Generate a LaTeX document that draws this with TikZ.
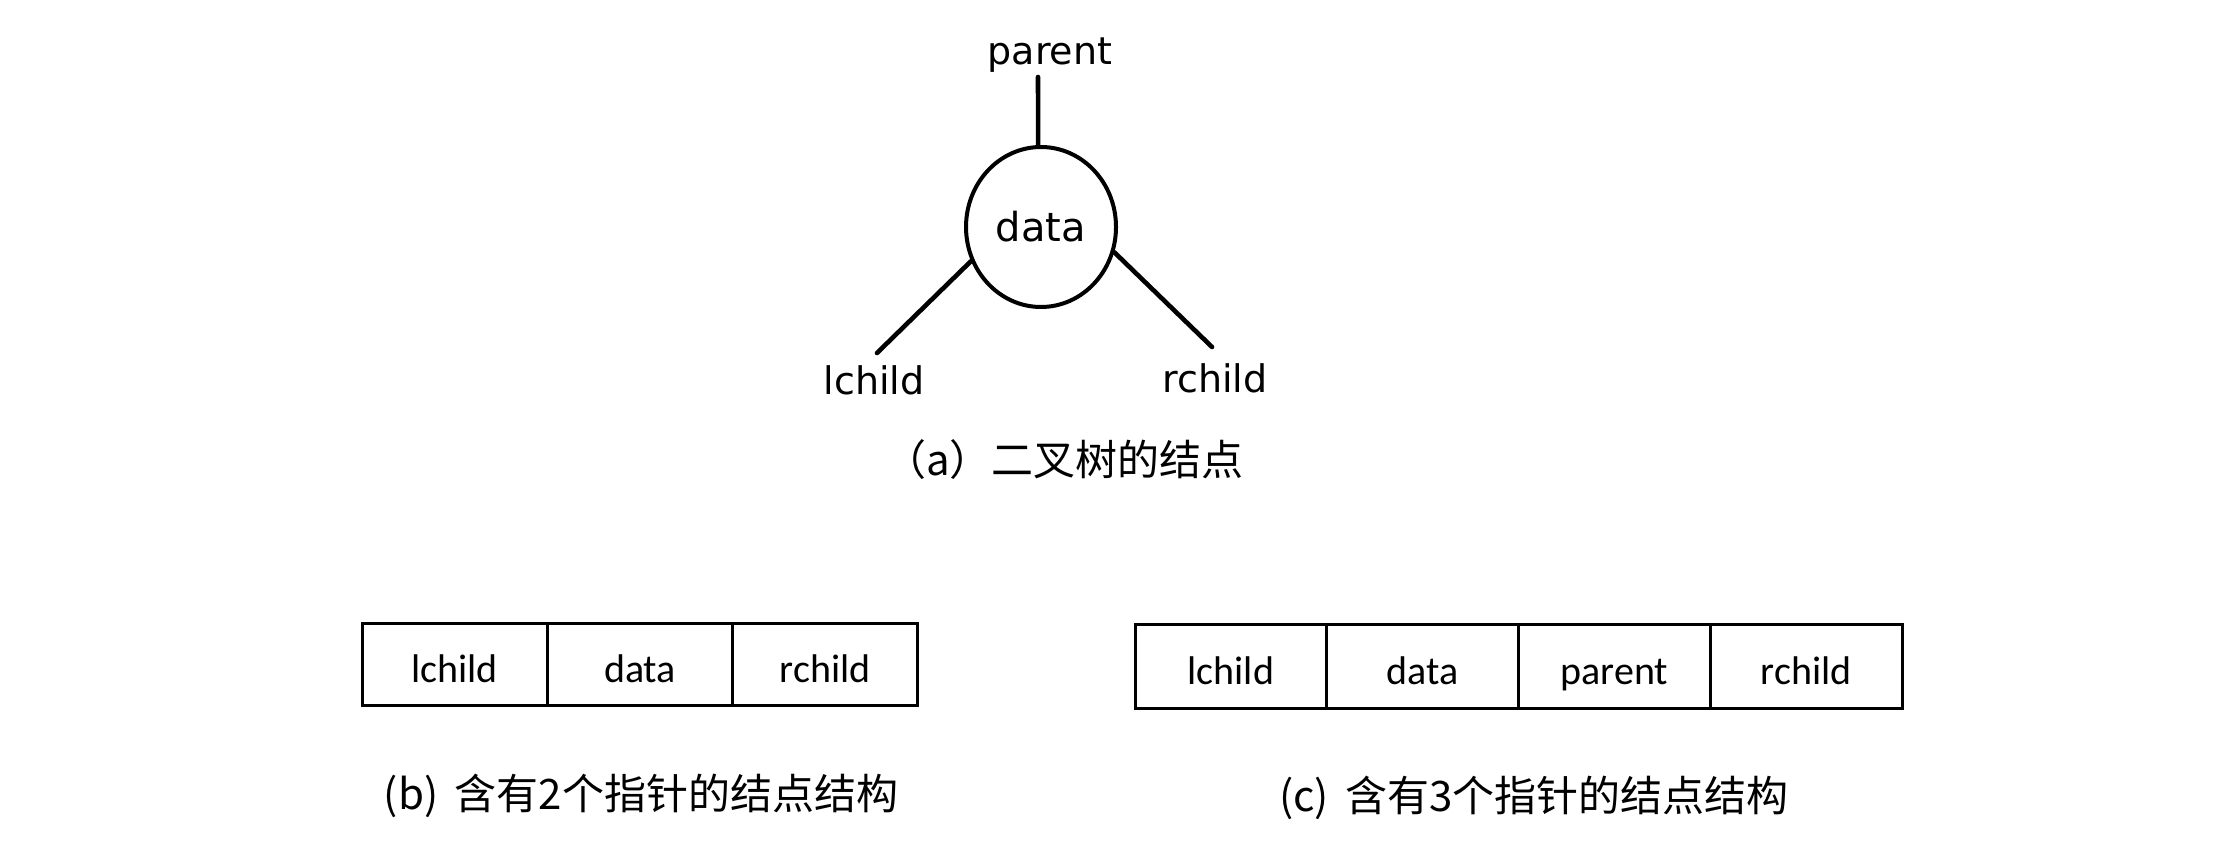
\documentclass[tikz,border=0pt]{standalone}
\usepackage{fontspec}
\setmainfont{Carlito}
\newfontfamily\handfont{DejaVu Sans}
\newfontfamily\cjk{Noto Sans CJK SC}
\usetikzlibrary{shapes.geometric}
\begin{document}
\begin{tikzpicture}[x=0.5pt,y=-0.5pt,
  hand/.style={font=\handfont\fontsize{19pt}{22pt}\selectfont, inner sep=0pt},
  bubble/.style={ellipse, draw, line width=2pt, minimum width=75pt, minimum height=80pt, inner sep=0pt,
     font=\handfont\fontsize{20pt}{24pt}\selectfont},
  link/.style={line width=2.3pt, line cap=round},
  cellb/.style={draw, line width=1.5pt, minimum width=92.65pt, minimum height=41pt, inner sep=0pt,
     text height=18pt, text depth=0pt, font=\fontsize{20pt}{24pt}\selectfont},
  cellc/.style={draw, line width=1.5pt, minimum width=95.9pt, minimum height=42pt, inner sep=0pt,
     text height=18pt, text depth=0pt, font=\fontsize{20pt}{24pt}\selectfont},
  caption/.style={font=\cjk\fontsize{21pt}{25pt}\selectfont, inner sep=0pt}]
\useasboundingbox (0,0) rectangle (2225,855);

% (a) binary tree node
\node[bubble] (n) at (1041,227) {data};
\node[hand] (pl) at (1050,55) {parent};
\node[hand] (ll) at (874,380) {lchild};
\node[hand] (rl) at (1215,378) {rchild};
\coordinate (pe) at (1038,77);
\coordinate (le) at (877,353);
\coordinate (re) at (1212,347);
\draw[link] (n.92) -- (pe);
\draw[link] (n.206) -- (le);
\draw[link] (n.-19) -- (re);
\node[caption] (ca) at (1064,460) {（a）二叉树的结点};

% (b) node with 2 pointers
\node[cellb] (b1) at (454.7,664) {lchild};
\node[cellb] (b2) at (640,664) {data};
\node[cellb] (b3) at (825.3,664) {rchild};
\node[caption] (cb) at (641,796) {(b)\, 含有2个指针的结点结构};

% (c) node with 3 pointers
\node[cellc] (c1) at (1230.9,666) {lchild};
\node[cellc] (c2) at (1422.6,666) {data};
\node[cellc] (c3) at (1614.4,666) {parent};
\node[cellc] (c4) at (1806.1,666) {rchild};
\node[caption] (cc) at (1534,798) {(c)\, 含有3个指针的结点结构};
\end{tikzpicture}
\end{document}
